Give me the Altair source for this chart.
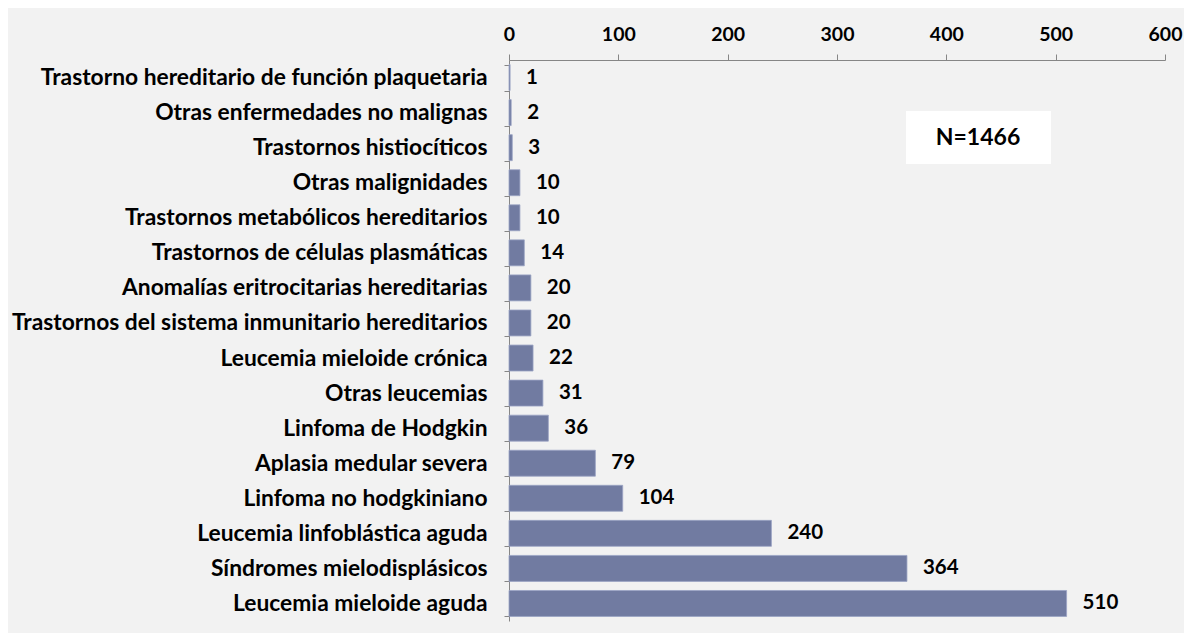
import altair as alt
import pandas as pd

categories = [
    "Trastorno hereditario de función plaquetaria",
    "Otras enfermedades no malignas",
    "Trastornos histiocíticos",
    "Otras malignidades",
    "Trastornos metabólicos hereditarios",
    "Trastornos de células plasmáticas",
    "Anomalías eritrocitarias hereditarias",
    "Trastornos del sistema inmunitario hereditarios",
    "Leucemia mieloide crónica",
    "Otras leucemias",
    "Linfoma de Hodgkin",
    "Aplasia medular severa",
    "Linfoma no hodgkiniano",
    "Leucemia linfoblástica aguda",
    "Síndromes mielodisplásicos",
    "Leucemia mieloide aguda",
]
values = [1, 2, 3, 10, 10, 14, 20, 20, 22, 31, 36, 79, 104, 240, 364, 510]
annotation = ["N=1466"]

FONT = "Lato"
df = pd.DataFrame({"cat": categories, "val": values})

y_enc = alt.Y(
    "cat:N",
    sort=categories,
    title=None,
    scale=alt.Scale(paddingInner=0.26, paddingOuter=0.13),
    axis=alt.Axis(
        tickBand="extent",
        tickSize=5,
        labelPadding=17,
        labelFontSize=22.8,
        labelFontWeight="bold",
        labelFont=FONT,
        labelColor="#000000",
        labelLimit=600,
        domainColor="#868686",
        tickColor="#868686",
    ),
)
x_enc = alt.X(
    "val:Q",
    title=None,
    scale=alt.Scale(domain=[0, 600], nice=False),
    axis=alt.Axis(
        orient="top",
        values=[0, 100, 200, 300, 400, 500, 600],
        tickSize=6,
        labelPadding=10,
        labelFlush=False,
        labelFontSize=19.5,
        labelFontWeight="bold",
        labelFont=FONT,
        labelColor="#000000",
        domainColor="#868686",
        tickColor="#868686",
        grid=False,
    ),
)

bars = alt.Chart(df).mark_bar(color="#717ba1", stroke="#9aa3c4", strokeWidth=0.8).encode(x=x_enc, y=y_enc)
labels = alt.Chart(df).mark_text(
    align="left", dx=16, fontSize=20.5, fontWeight="bold", font=FONT, color="#000000"
).encode(x="val:Q", y=alt.Y("cat:N", sort=categories), text="val:Q")

ann_df = pd.DataFrame({"t": annotation})
box = alt.Chart(ann_df).mark_rect(color="#ffffff").encode(
    x=alt.value(397), x2=alt.value(542), y=alt.value(51), y2=alt.value(104)
)
ann_text = alt.Chart(ann_df).mark_text(
    fontSize=23, fontWeight="bold", font=FONT, color="#000000", align="center", baseline="middle"
).encode(x=alt.value(469), y=alt.value(78), text="t:N")

chart = (
    alt.layer(bars, labels, box, ann_text)
    .properties(
        width=656,
        height=561,
        autosize=alt.AutoSizeParams(type="none"),
        padding={"left": 501, "top": 52, "right": 19, "bottom": 12},
        background="#f2f2f2",
    )
    .configure_view(stroke=None)
)

chart.save("out.html", embed_options={"renderer": "svg", "actions": False})
